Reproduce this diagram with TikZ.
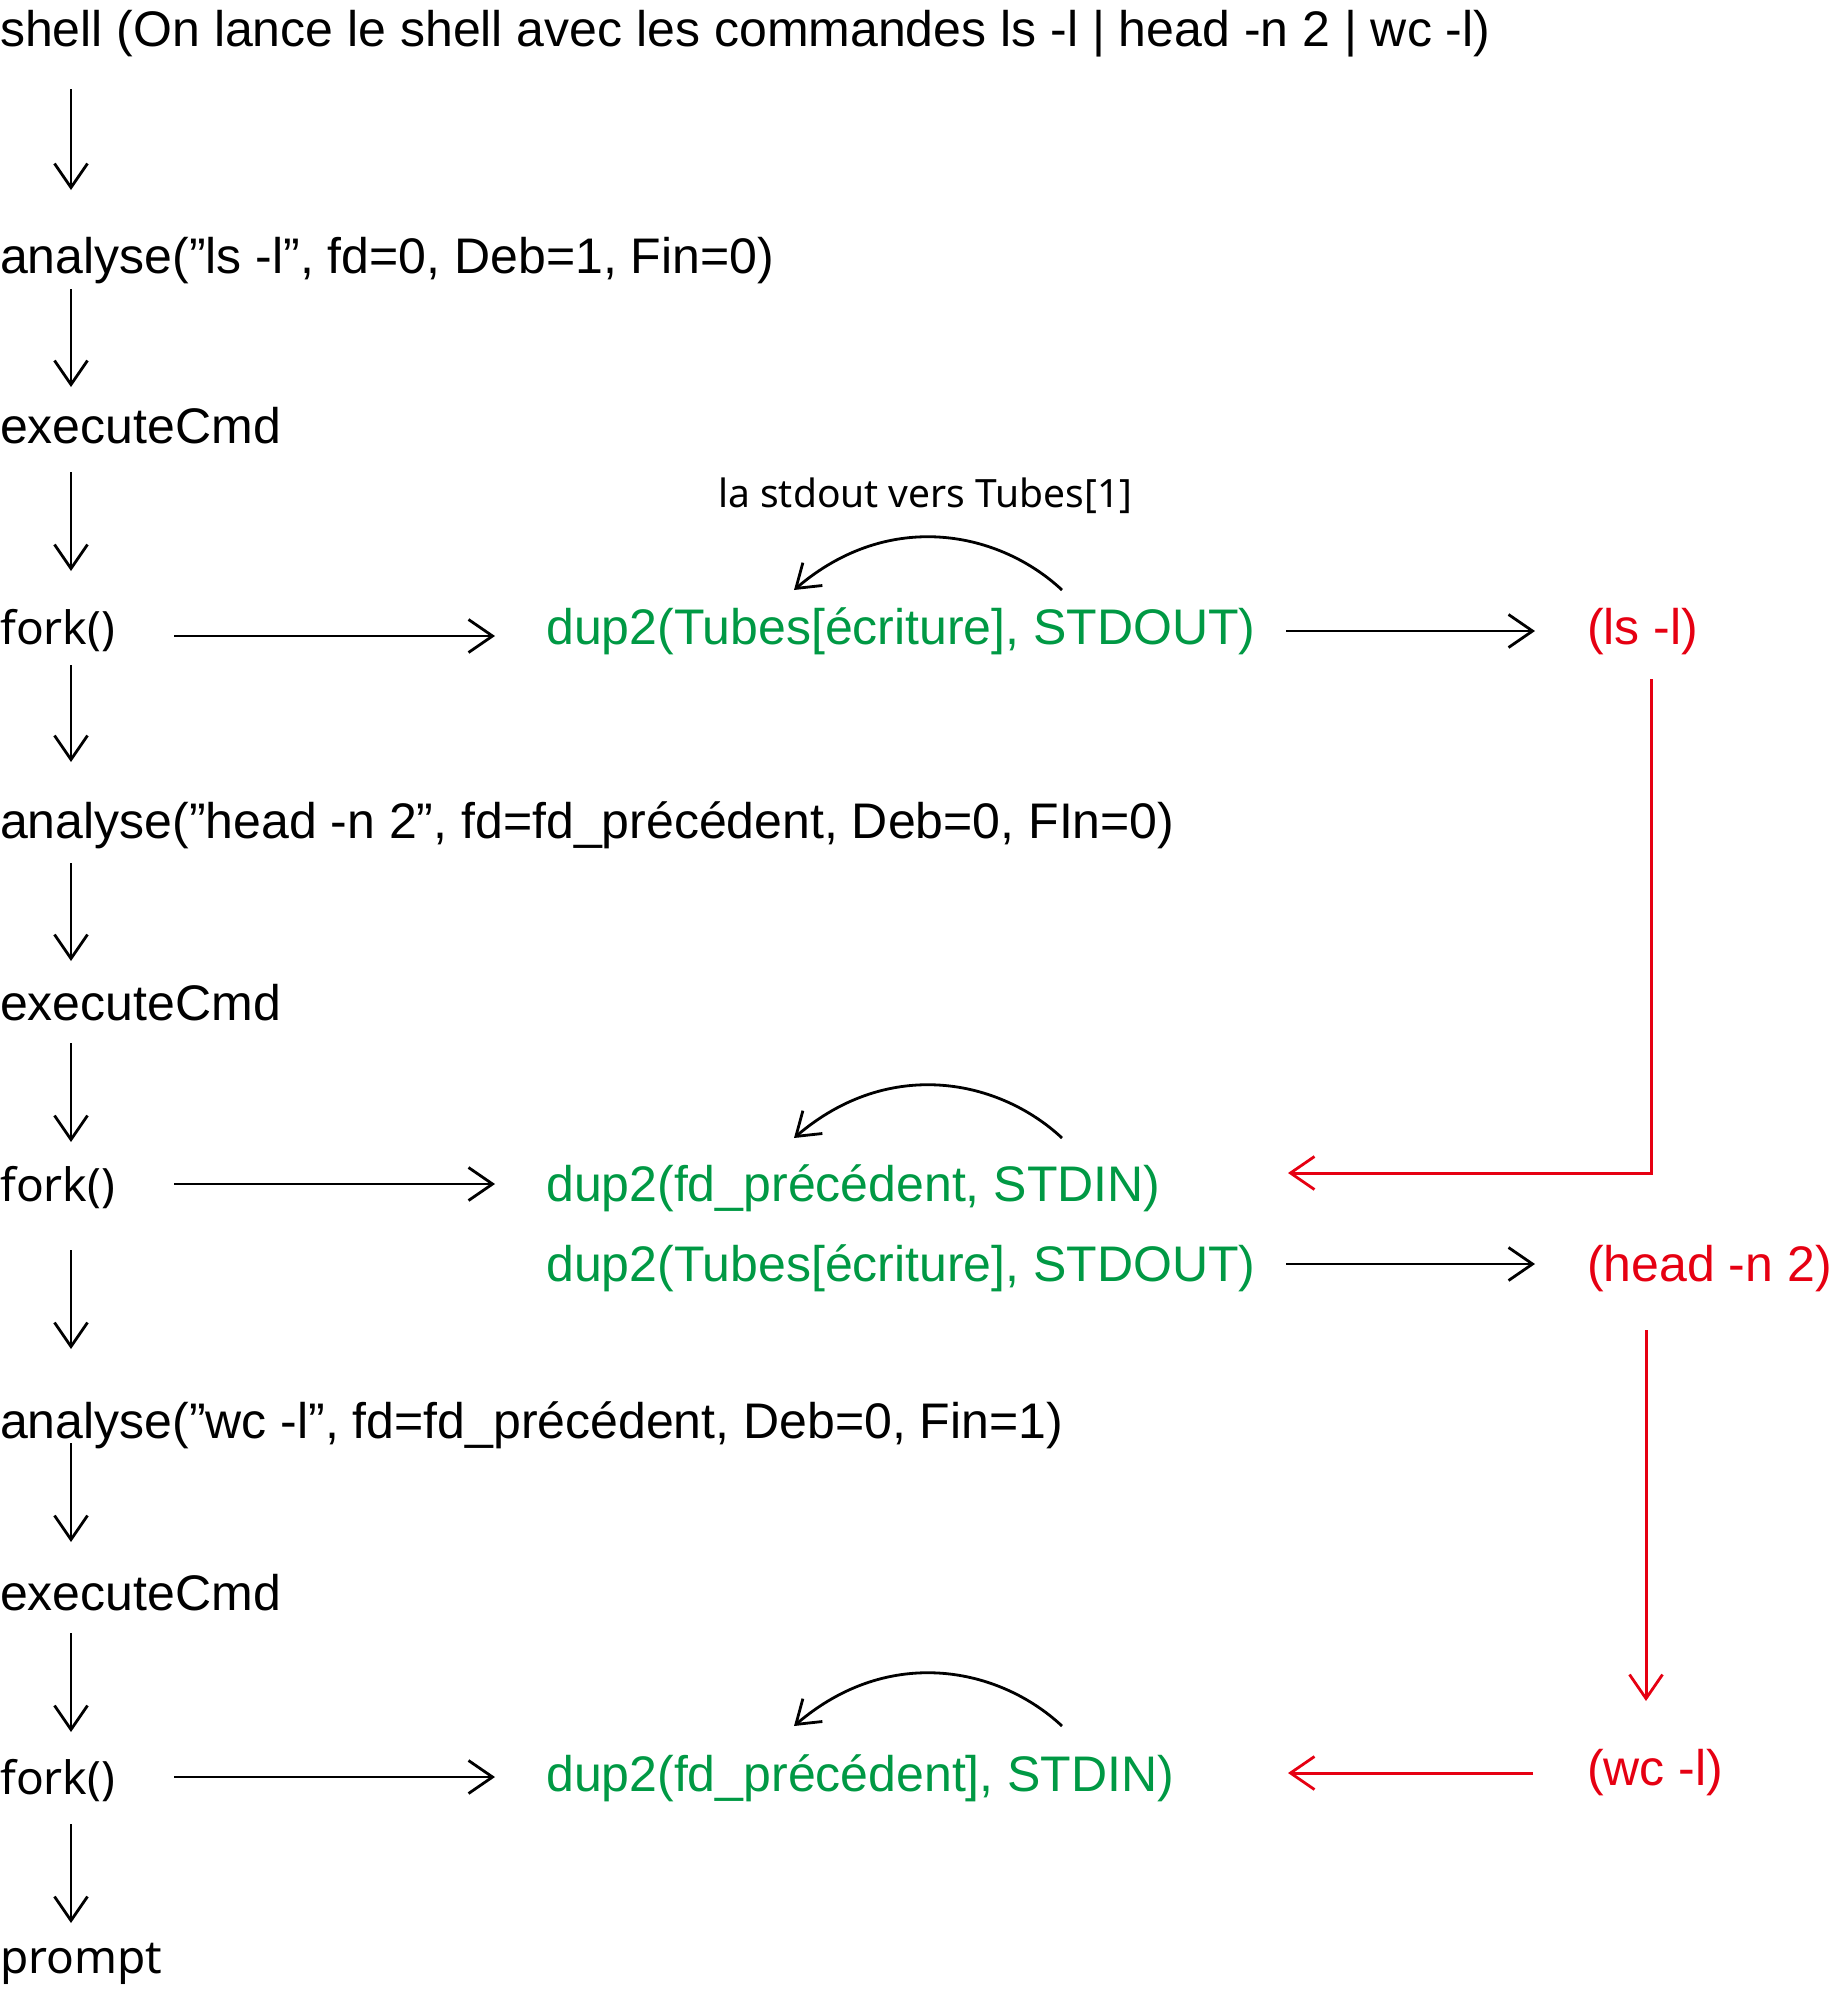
\documentclass[tikz,border=0pt]{standalone}
\usepackage{fontspec}
\setmainfont{Liberation Sans}
\newfontfamily\hum{Noto Sans}
\usetikzlibrary{arrows.meta}
\definecolor{grn}{RGB}{0,153,68}
\definecolor{rd}{RGB}{230,0,18}
\begin{document}
\begin{tikzpicture}[x=1pt,y=-1pt,
  txt/.style={anchor=base west, inner sep=0pt, font=\fontsize{50}{58}\selectfont},
  htxt/.style={anchor=base west, inner sep=0pt, font=\hum\fontsize{46}{56}\selectfont},
  lbl/.style={anchor=base west, inner sep=0pt, font=\hum\fontsize{39}{46}\selectfont},
  gtxt/.style={txt, text=grn},
  rtxt/.style={txt, text=rd},
  arr/.style={line width=2.8pt, -{Straight Barb[length=24pt,width=33pt,line width=2.8pt]}},
  rarr/.style={arr, draw=rd, line width=3pt},
  carr/.style={line width=2.8pt, -{Straight Barb[length=22pt,width=30pt,line width=2.8pt]}}]
\useasboundingbox[fill=white] (0,0) rectangle (1834,1990);

% left column
\node[txt]  (shell) at (0,46)   {shell (On lance le shell avec les commandes ls -l | head -n 2 | wc -l)};
\node[txt]  (an1)   at (0,273)  {analyse(”ls -l”, fd=0, Deb=1, Fin=0)};
\node[txt]  (ex1)   at (0,443)  {executeCmd};
\node[htxt] (fk1)   at (0,644)  {fork()};
\node[txt]  (an2)   at (0,838)  {analyse(”head -n 2”, fd=fd\_précédent, Deb=0, FIn=0)};
\node[txt]  (ex2)   at (0,1020) {executeCmd};
\node[htxt] (fk2)   at (0,1201) {fork()};
\node[txt]  (an3)   at (0,1438) {analyse(”wc -l”, fd=fd\_précédent, Deb=0, Fin=1)};
\node[txt]  (ex3)   at (0,1610) {executeCmd};
\node[htxt] (fk3)   at (0,1794) {fork()};
\node[htxt] (pr)    at (0,1973) {prompt};

% green column
\node[gtxt] (d1)  at (546,644)  {dup2(Tubes[écriture], STDOUT)};
\node[gtxt] (d2)  at (546,1201) {dup2(fd\_précédent, STDIN)};
\node[gtxt] (d2b) at (546,1281) {dup2(Tubes[écriture], STDOUT)};
\node[gtxt] (d3)  at (546,1791) {dup2(fd\_précédent], STDIN)};

% red column
\node[rtxt] (ls) at (1587,644)  {(ls -l)};
\node[rtxt] (hd) at (1587,1281) {(head -n 2)};
\node[rtxt] (wc) at (1587,1785) {(wc -l)};

% label
\node[lbl] (lab) at (718,507) {la stdout vers Tubes[1]};

% vertical arrow ends
\coordinate (v1a) at (71,89);    \coordinate (v1b) at (71,190);
\coordinate (v2a) at (71,289);   \coordinate (v2b) at (71,387);
\coordinate (v3a) at (71,472);   \coordinate (v3b) at (71,571);
\coordinate (v4a) at (71,665);   \coordinate (v4b) at (71,762);
\coordinate (v5a) at (71,863);   \coordinate (v5b) at (71,961);
\coordinate (v6a) at (71,1043);  \coordinate (v6b) at (71,1142);
\coordinate (v7a) at (71,1250);  \coordinate (v7b) at (71,1349);
\coordinate (v8a) at (71,1443);  \coordinate (v8b) at (71,1542);
\coordinate (v9a) at (71,1633);  \coordinate (v9b) at (71,1732);
\coordinate (v10a) at (71,1824); \coordinate (v10b) at (71,1923);
\foreach \i in {1,...,10} {\draw[arr] (v\i a) -- (v\i b);}

% horizontal black arrows
\coordinate (h1a) at (174,636);  \coordinate (h1b) at (495,636);
\coordinate (h2a) at (174,1184); \coordinate (h2b) at (495,1184);
\coordinate (h3a) at (174,1777); \coordinate (h3b) at (495,1777);
\coordinate (h4a) at (1286,631); \coordinate (h4b) at (1535,631);
\coordinate (h5a) at (1286,1264);\coordinate (h5b) at (1535,1264);
\draw[arr] (h1a) -- (h1b);
\draw[arr] (h2a) -- (h2b);
\draw[arr] (h3a) -- (h3b);
\draw[arr] (h4a) -- (h4b);
\draw[arr] (h5a) -- (h5b);

% red connectors
\coordinate (r1a) at (1651,679);  \coordinate (r1b) at (1288,1173);
\coordinate (r2a) at (1646,1330); \coordinate (r2b) at (1646,1701);
\coordinate (r3a) at (1533,1773); \coordinate (r3b) at (1288,1773);
\draw[rarr] (r1a) |- (r1b);
\draw[rarr] (r2a) -- (r2b);
\draw[rarr] (r3a) -- (r3b);

% curved arrows
\foreach \yy/\nm in {590/c1, 1138/c2, 1726/c3} {
  \coordinate (\nm a) at (1062,\yy);
  \coordinate (\nm b) at (794,\yy);
  \draw[carr] (\nm a) .. controls (1000,\yy-58) and (890,\yy-82) .. (\nm b);
}
\end{tikzpicture}
\end{document}
